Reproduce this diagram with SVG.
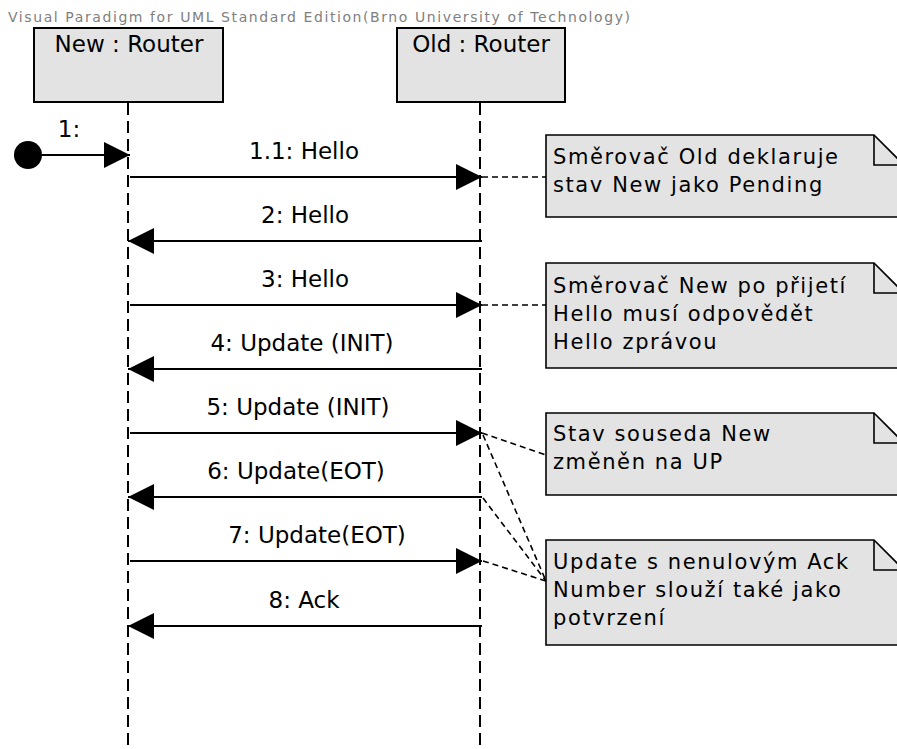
<svg xmlns="http://www.w3.org/2000/svg" width="897" height="749" viewBox="0 0 897 749">
  <style>
    .box { fill: #e3e3e3; stroke: #000; stroke-width: 2; }
    .note { fill: #e3e3e3; stroke: #000; stroke-width: 1.6; }
    .fold { fill: none; stroke: #000; stroke-width: 1.6; }
    .life { stroke: #000; stroke-width: 2; stroke-dasharray: 12 6; fill: none; }
    .msg { stroke: #000; stroke-width: 2; fill: none; }
    .anchor { stroke: #000; stroke-width: 1.6; stroke-dasharray: 6 4; fill: none; }
    .title { font-family: "DejaVu Sans", sans-serif; font-size: 23px; fill: #000; text-anchor: middle; }
    .label { font-family: "DejaVu Sans", sans-serif; font-size: 23px; fill: #000; text-anchor: middle; }
    .ntext { font-family: "DejaVu Sans", sans-serif; font-size: 21px; fill: #000; letter-spacing: 1.6px; }
    .head { font-family: "DejaVu Sans", sans-serif; font-size: 14px; fill: #808080; }
  </style>
  <defs>
    <marker id="arrow" viewBox="0 0 26 26" refX="26" refY="13" markerWidth="26" markerHeight="26" markerUnits="userSpaceOnUse" orient="auto">
      <path d="M0,0 L26,13 L0,26 Z" fill="#000"/>
    </marker>
  </defs>

  <text class="head" x="8" y="22" textLength="622" lengthAdjust="spacing">Visual Paradigm for UML Standard Edition(Brno University of Technology)</text>

  <!-- lifelines -->
  <g id="new-router">
    <line class="life" x1="128" y1="103" x2="128" y2="749"/>
    <rect class="box" x="34" y="28" width="189" height="74"/>
    <text class="title" x="129" y="52">New : Router</text>
  </g>
  <g id="old-router">
    <line class="life" x1="480" y1="103" x2="480" y2="749"/>
    <rect class="box" x="397" y="28" width="168" height="74"/>
    <text class="title" x="481" y="52">Old : Router</text>
  </g>

  <!-- found message start point -->
  <g id="start">
    <circle cx="28" cy="155" r="14" fill="#000"/>
  </g>

  <!-- notes -->
  <g id="note-pending">
    <path class="note" d="M546,135 H874 L904,165 V217 H546 Z"/>
    <path class="fold" d="M874,135 V165 H904"/>
    <text class="ntext" x="553" y="164">Směrovač Old deklaruje</text>
    <text class="ntext" x="553" y="192">stav New jako Pending</text>
  </g>
  <g id="note-hello">
    <path class="note" d="M546,263 H874 L904,293 V368 H546 Z"/>
    <path class="fold" d="M874,263 V293 H904"/>
    <text class="ntext" x="553" y="293">Směrovač New po přijetí</text>
    <text class="ntext" x="553" y="321">Hello musí odpovědět</text>
    <text class="ntext" x="553" y="349">Hello zprávou</text>
  </g>
  <g id="note-up">
    <path class="note" d="M546,413 H874 L904,443 V495 H546 Z"/>
    <path class="fold" d="M874,413 V443 H904"/>
    <text class="ntext" x="553" y="441">Stav souseda New</text>
    <text class="ntext" x="553" y="469">změněn na UP</text>
  </g>
  <g id="note-ack">
    <path class="note" d="M546,540 H874 L904,570 V645 H546 Z"/>
    <path class="fold" d="M874,540 V570 H904"/>
    <text class="ntext" x="553" y="569">Update s nenulovým Ack</text>
    <text class="ntext" x="553" y="597">Number slouží také jako</text>
    <text class="ntext" x="553" y="625">potvrzení</text>
  </g>

  <!-- connectors -->
  <g id="connectors">
    <line class="msg" x1="42" y1="155" x2="130" y2="155" marker-end="url(#arrow)"/>
    <text class="label" x="69" y="137">1:</text>

    <line class="msg" x1="130" y1="177" x2="482" y2="177" marker-end="url(#arrow)"/>
    <text class="label" x="304" y="159">1.1: Hello</text>

    <line class="msg" x1="482" y1="241" x2="128" y2="241" marker-end="url(#arrow)"/>
    <text class="label" x="305" y="223">2: Hello</text>

    <line class="msg" x1="130" y1="305" x2="482" y2="305" marker-end="url(#arrow)"/>
    <text class="label" x="305" y="287">3: Hello</text>

    <line class="msg" x1="482" y1="369" x2="128" y2="369" marker-end="url(#arrow)"/>
    <text class="label" x="302" y="351">4: Update (INIT)</text>

    <line class="msg" x1="130" y1="433" x2="482" y2="433" marker-end="url(#arrow)"/>
    <text class="label" x="298" y="415">5: Update (INIT)</text>

    <line class="msg" x1="482" y1="497" x2="128" y2="497" marker-end="url(#arrow)"/>
    <text class="label" x="296" y="479">6: Update(EOT)</text>

    <line class="msg" x1="130" y1="561" x2="482" y2="561" marker-end="url(#arrow)"/>
    <text class="label" x="317" y="543">7: Update(EOT)</text>

    <line class="msg" x1="482" y1="626" x2="128" y2="626" marker-end="url(#arrow)"/>
    <text class="label" x="304" y="608">8: Ack</text>

    <!-- note anchors -->
    <line class="anchor" x1="482" y1="177" x2="546" y2="177"/>
    <line class="anchor" x1="482" y1="305" x2="546" y2="305"/>
    <line class="anchor" x1="482" y1="433" x2="546" y2="455"/>
    <line class="anchor" x1="483" y1="435" x2="546" y2="581"/>
    <line class="anchor" x1="483" y1="498" x2="546" y2="581"/>
    <line class="anchor" x1="483" y1="561" x2="546" y2="581"/>
  </g>
</svg>
